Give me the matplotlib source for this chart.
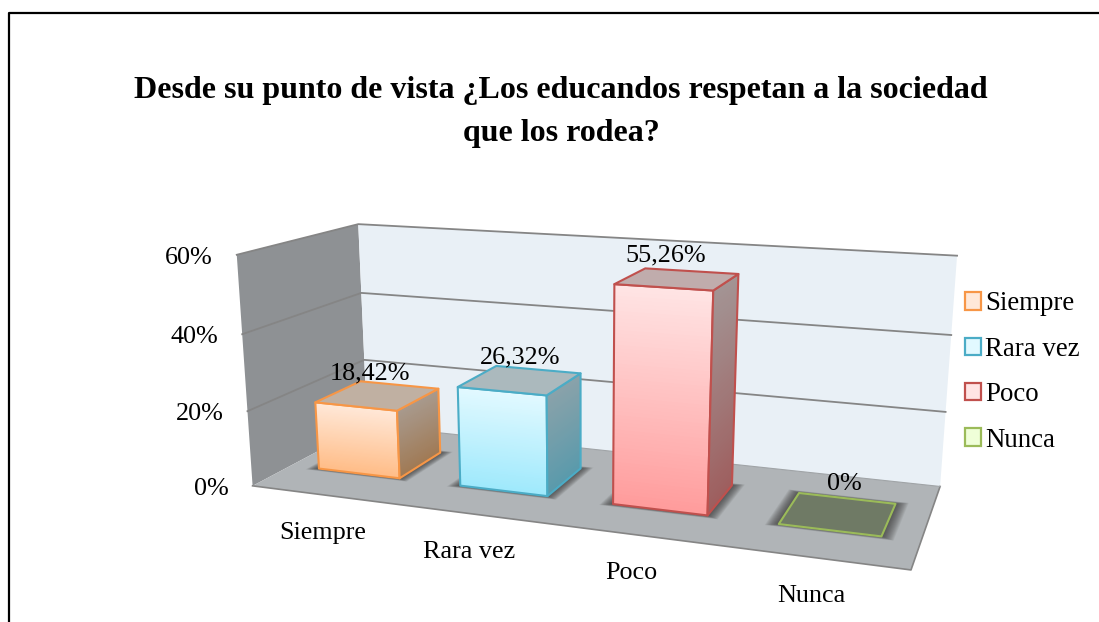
import numpy as np
import matplotlib
matplotlib.use("Agg")
import matplotlib.pyplot as plt
from matplotlib.collections import PolyCollection
from matplotlib.patches import Polygon, Patch
from matplotlib.colors import to_rgb

plt.rcParams['font.family'] = ['Liberation Serif', 'DejaVu Serif']

TITLE = "Desde su punto de vista ¿Los educandos respetan a la sociedad\nque los rodea?"
categories = ["Siempre", "Rara vez", "Poco", "Nunca"]
values = [18.42, 26.32, 55.26, 0.0]
value_labels = ["18,42%", "26,32%", "55,26%", "0%"]
ticks = [0, 20, 40, 60]
tick_labels = ["0%", "20%", "40%", "60%"]
edge_colors = ["#F79646", "#4BACC6", "#C0504D", "#9BBB59"]
front_top = ["#FFE8D8", "#E2F9FF", "#FFE4E4", "#EFFFD8"]
front_bot = ["#FFBD88", "#9FE9FC", "#FF9C9C", "#C8EE90"]
side_top = ["#A89A8E", "#8AA2AA", "#A39494", "#8A9A70"]
side_bot = ["#A07A55", "#5A9AAB", "#9E5E5E", "#7A8A60"]
top_col = ["#C0B0A2", "#ABB9BD", "#C0ACAC", "#6F7A65"]

VMAX = 60.0
# camera calibration: (u along categories, d depth, v height) -> figure pixel
calib = [
    ((0, 0, 0), (253, 486)), ((1, 0, 0), (911, 570)),
    ((0, 1, 0), (367, 425)), ((1, 1, 0), (940, 486)),
    ((0, 0, 1), (237, 255)), ((0, 1, 1), (358, 224)), ((1, 1, 1), (957, 255)),
    ((0, 0, 1/3), (247, 411)), ((0, 0, 2/3), (242, 334)),
    ((0, 1, 1/3), (364, 360)), ((0, 1, 2/3), (362, 293)),
    ((1, 1, 1/3), (946, 412)), ((1, 1, 2/3), (951, 336)),
]
A = []
for (X, Y, Z), (x, y) in calib:
    x, y = x / 1000.0, y / 1000.0
    A.append([X, Y, Z, 1, 0, 0, 0, 0, -x*X, -x*Y, -x*Z, -x])
    A.append([0, 0, 0, 0, X, Y, Z, 1, -y*X, -y*Y, -y*Z, -y])
P = np.linalg.svd(np.array(A))[2][-1].reshape(3, 4)

def proj(u, d, val):
    h = P @ np.array([u, d, val / VMAX, 1.0])
    return (h[0] / h[2] * 1000.0, h[1] / h[2] * 1000.0)

fig = plt.figure(figsize=(10.99, 6.22), dpi=100)
ax = fig.add_axes([0, 0, 1, 1])
ax.set_xlim(0, 1099)
ax.set_ylim(622, 0)
ax.axis("off")

# frame (open on the right and at the bottom)
ax.plot([9, 9, 1110], [640, 13, 13], color="black", lw=1.6)

# walls and floor
ax.add_patch(Polygon([proj(0,0,0), proj(0,1,0), proj(0,1,60), proj(0,0,60)], fc="#8E9194", ec="none", zorder=0.1))
ax.add_patch(Polygon([proj(0,1,0), proj(1,1,0), proj(1,1,60), proj(0,1,60)], fc="#E9F0F6", ec="none", zorder=0.1))
ax.add_patch(Polygon([proj(0,0,0), proj(1,0,0), proj(1,1,0), proj(0,1,0)], fc="#B0B4B7", ec="none", zorder=0.2))
ax.plot(*zip(proj(0,0,0), proj(1,0,0), proj(1,1,0)), color="#858585", lw=1.2, zorder=0.5)
ax.plot(*zip(proj(0,1,0), proj(1,1,0)), color="#A0A4A7", lw=0.8, zorder=0.5)
for t in ticks[1:]:
    ax.plot(*zip(proj(0,0,t), proj(0,1,t), proj(1,1,t)), color="#858585", lw=1.3, zorder=0.5)

# axis labels
for t, lab in zip(ticks, tick_labels):
    x, y = proj(0, 0, t)
    ax.text(x - 24, y + 3, lab, ha="right", va="center", fontsize=18.8)

U_START, U_W, D0, D1 = 0.051, 0.145, 0.307, 0.708
label_dx = [-9, -1, -13, 5]
label_dy = [1, 0, -1, -7]
cat_dx = [-1, -5, -6, -4]
for i, (cat, val) in enumerate(zip(categories, values)):
    u0 = i / 4 + U_START
    u1 = u0 + U_W
    # shadow
    for m in np.linspace(0.030, 0.002, 14):
        ax.add_patch(Polygon([proj(u0-m*.6, D0-m, 0), proj(u1+m*.6, D0-m, 0), proj(u1+m*.6, D1+m, 0), proj(u0-m*.6, D1+m, 0)],
                             fc="#303030", ec="none", alpha=0.075))
    n = 60
    vs = np.linspace(0, val, n + 1)
    if val > 0:
        for (a, b, c0, c1) in [
            ((u0, D0), (u1, D0), front_bot[i], front_top[i]),
            ((u1, D0), (u1, D1), side_bot[i], side_top[i]),
        ]:
            polys = [[proj(a[0], a[1], vs[k]), proj(b[0], b[1], vs[k]), proj(b[0], b[1], val), proj(a[0], a[1], val)] for k in range(n)]
            c0r, c1r = np.array(to_rgb(c0)), np.array(to_rgb(c1))
            cols = [c0r + (c1r - c0r) * (k / (n - 1)) for k in range(n)]
            ax.add_collection(PolyCollection(polys, facecolors=cols, edgecolors="none"))
            ax.add_patch(Polygon([proj(a[0], a[1], 0), proj(b[0], b[1], 0), proj(b[0], b[1], val), proj(a[0], a[1], val)],
                                 fc="none", ec=edge_colors[i], lw=1.5, joinstyle="round"))
    ax.add_patch(Polygon([proj(u0, D0, val), proj(u1, D0, val), proj(u1, D1, val), proj(u0, D1, val)],
                         fc=top_col[i], ec=edge_colors[i], lw=1.5, joinstyle="round"))
    # value and category labels
    x, y = proj((i + 0.5) / 4, (D0 + D1) / 2, val)
    ax.text(x + label_dx[i], y - 12 + label_dy[i], value_labels[i], ha="center", va="bottom", fontsize=18.8)
    x, y = proj((i + 0.5) / 4, 0, 0)
    ax.text(x + cat_dx[i], y + 38, cat, ha="center", va="center", fontsize=18.8)

# legend
handles = [Patch(fc=front_top[i], ec=edge_colors[i], lw=1.6, label=categories[i]) for i in range(4)]
ax.legend(handles=handles, loc="center left", bbox_to_anchor=(965 / 1099, 1 - 372 / 622), frameon=False,
          fontsize=19.4, handlelength=0.6, handleheight=0.6, handletextpad=0.15,
          labelspacing=0.755, borderpad=0, borderaxespad=0)

ax.text(561, 112, TITLE, ha="center", va="center", fontsize=23.0, fontweight="bold", linespacing=1.6)

fig.savefig("out.png", dpi=100)
